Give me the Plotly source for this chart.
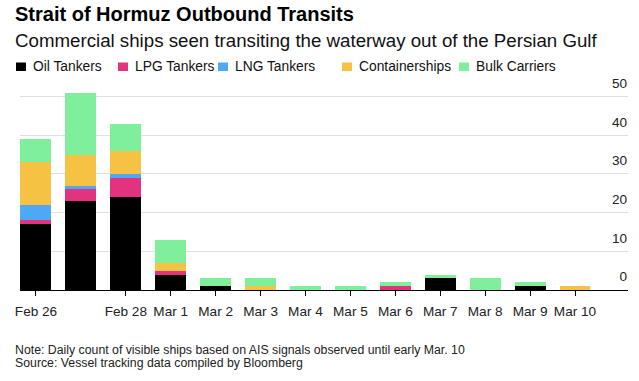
import plotly.graph_objects as go

# ---- data ----
dates = ["Feb 26", "Feb 27", "Feb 28", "Mar 1", "Mar 2", "Mar 3", "Mar 4",
         "Mar 5", "Mar 6", "Mar 7", "Mar 8", "Mar 9", "Mar 10"]
tick_labels = ["Feb 26", "", "Feb 28", "Mar 1", "Mar 2", "Mar 3", "Mar 4",
               "Mar 5", "Mar 6", "Mar 7", "Mar 8", "Mar 9", "Mar 10"]
oil_tankers = [17, 23, 24, 4, 1, 0, 0, 0, 0, 3, 0, 1, 0]
lpg_tankers = [1, 3, 5, 1, 0, 0, 0, 0, 1, 0, 0, 0, 0]
lng_tankers = [4, 1, 1, 0, 0, 0, 0, 0, 0, 0, 0, 0, 0]
containerships = [11, 8, 6, 2, 0, 1, 0, 0, 0, 0, 0, 0, 1]
bulk_carriers = [6, 16, 7, 6, 2, 2, 1, 1, 1, 1, 3, 1, 0]
y_ticks = [0, 10, 20, 30, 40, 50]

series_names = ["Oil Tankers", "LPG Tankers", "LNG Tankers", "Containerships", "Bulk Carriers"]
series_values = [oil_tankers, lpg_tankers, lng_tankers, containerships, bulk_carriers]
colors = ["#000000", "#e2337f", "#4ea8f4", "#f6c244", "#7fef9b"]

# ---- layout geometry (pixels) ----
W, H = 639, 381
ML, MR, MT, MB = 20, 11, 73, 91
PW, PH = W - ML - MR, H - MT - MB
Y_MAX = (H - MB - MT) / 3.868


def px_x(px):
    return (px - ML) / PW


def px_y(py):
    return (H - MB - py) / PH


x_idx = list(range(len(dates)))
fig = go.Figure()
for name, vals, col in zip(series_names, series_values, colors):
    fig.add_trace(go.Bar(x=x_idx, y=vals, name=name, marker=dict(color=col, line=dict(width=0)),
                         customdata=dates, hovertemplate="%{customdata}: %{y}<extra>" + name + "</extra>",
                         showlegend=False))

FONT = "Liberation Sans, Arial, sans-serif"
annotations = []
# title & subtitle
annotations.append(dict(text="<b>Strait of Hormuz Outbound Transits</b>", x=px_x(13), y=px_y(14),
                        xref="paper", yref="paper", xanchor="left", yanchor="middle", showarrow=False,
                        font=dict(family=FONT, size=20, color="#000")))
annotations.append(dict(text="Commercial ships seen transiting the waterway out of the Persian Gulf",
                        x=px_x(13), y=px_y(40.5), xref="paper", yref="paper", xanchor="left",
                        yanchor="middle", showarrow=False, font=dict(family=FONT, size=18.7, color="#111")))
# legend (manual)
shapes = []
sq_left = [16, 118, 218, 342, 459]
for name, col, sx in zip(series_names, colors, sq_left):
    shapes.append(dict(type="rect", xref="paper", yref="paper", x0=px_x(sx), x1=px_x(sx + 10),
                       y0=px_y(71), y1=px_y(62.5), fillcolor=col, line=dict(width=0)))
    annotations.append(dict(text=name, x=px_x(sx + 15), y=px_y(67), xref="paper", yref="paper",
                            xanchor="left", yanchor="middle", showarrow=False,
                            font=dict(family=FONT, size=13.8, color="#111")))
# footnotes
annotations.append(dict(text="Note: Daily count of visible ships based on AIS signals observed until early Mar. 10",
                        x=px_x(13), y=px_y(350), xref="paper", yref="paper", xanchor="left",
                        yanchor="middle", showarrow=False, font=dict(family=FONT, size=12.3, color="#222")))
annotations.append(dict(text="Source: Vessel tracking data compiled by Bloomberg",
                        x=px_x(13), y=px_y(363), xref="paper", yref="paper", xanchor="left",
                        yanchor="middle", showarrow=False, font=dict(family=FONT, size=12.3, color="#222")))

tickvals = [i for i, t in enumerate(tick_labels) if t]
ticktext = [t for t in tick_labels if t]

fig.update_layout(
    width=W, height=H,
    margin=dict(l=ML, r=MR, t=MT, b=MB, pad=0),
    paper_bgcolor="white", plot_bgcolor="white",
    barmode="stack", bargap=0.31,
    showlegend=False,
    font=dict(family=FONT, color="#222"),
    annotations=annotations, shapes=shapes,
    xaxis=dict(range=[-0.356, 13.18], tickvals=tickvals, ticktext=ticktext,
               ticks="outside", ticklen=5, tickwidth=1, tickcolor="#000",
               showline=True, linecolor="#000", linewidth=1, showgrid=False, zeroline=False,
               tickfont=dict(family=FONT, size=13.6, color="#222"), ticklabelstandoff=4,
               fixedrange=True),
    yaxis=dict(range=[0, Y_MAX], tickvals=y_ticks, side="right", ticklabelposition="inside top",
               showgrid=True, gridcolor="#e0e0e0", gridwidth=1, zeroline=False, showline=False,
               ticks="", tickfont=dict(family=FONT, size=13.6, color="#222"),
               ticklabelshift=-4, ticklabelstandoff=-2, fixedrange=True),
)

fig.write_html("out.html", config={"displayModeBar": False},
               post_script="document.body.style.margin='0';document.body.style.padding='0';document.body.style.overflow='hidden';")
